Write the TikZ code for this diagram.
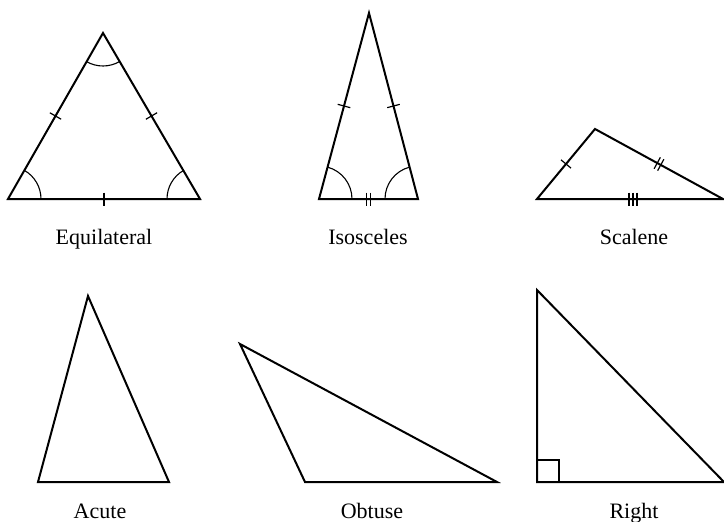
\documentclass[tikz,border=0pt]{standalone}
\usepackage{fontspec}
\setmainfont{Liberation Serif}
\usetikzlibrary{calc,angles}
\newcommand{\tk}[3]{%
  \coordinate (tkm) at ($(#1)!0.5!(#2)$);
  \coordinate (tkc) at ($(tkm)!#3!(#2)$);
  \draw[tickmk] ($(tkc)!6.5pt!90:(#2)$) -- ($(tkc)!6.5pt!-90:(#2)$);}
\begin{document}
\begin{tikzpicture}[x=1pt,y=-1pt,
  tri/.style={line width=2pt,line join=miter},
  tickmk/.style={line width=1.2pt},
  arcmk/.style={draw,line width=1.1pt,angle radius=33pt},
  lbl/.style={anchor=base,inner sep=0pt,font=\fontsize{22}{26}\selectfont}]
\useasboundingbox (0,0) rectangle (724,522);
% Equilateral
\coordinate (eL) at (8,199);
\coordinate (eR) at (200,199);
\coordinate (eT) at (103,33);
\draw[tri] (eL) -- (eR) -- (eT) -- cycle;
\tk{eL}{eT}{0pt}
\tk{eT}{eR}{0pt}
\tk{eL}{eR}{0pt}
\pic[arcmk] {angle = eR--eL--eT};
\pic[arcmk] {angle = eT--eR--eL};
\pic[arcmk] {angle = eL--eT--eR};
\node[lbl] (equi) at (104,244) {Equilateral};
% Isosceles
\coordinate (iL) at (319,199);
\coordinate (iR) at (418,199);
\coordinate (iT) at (369,13);
\draw[tri] (iL) -- (iR) -- (iT) -- cycle;
\tk{iL}{iT}{0pt}
\tk{iT}{iR}{0pt}
\tk{iL}{iR}{-2pt}
\tk{iL}{iR}{2pt}
\pic[arcmk] {angle = iR--iL--iT};
\pic[arcmk] {angle = iT--iR--iL};
\node[lbl] (isos) at (368,244) {Isosceles};
% Scalene
\coordinate (sL) at (537,199);
\coordinate (sR) at (723,199);
\coordinate (sT) at (595,129);
\draw[tri] (sL) -- (sR) -- (sT) -- cycle;
\tk{sL}{sT}{0pt}
\tk{sT}{sR}{-2pt}
\tk{sT}{sR}{2pt}
\tk{sL}{sR}{-1pt}
\tk{sL}{sR}{3pt}
\tk{sL}{sR}{7pt}
\node[lbl] (scal) at (634,244) {Scalene};
% Acute
\coordinate (aL) at (38,482);
\coordinate (aR) at (169,482);
\coordinate (aT) at (88,296);
\draw[tri] (aL) -- (aR) -- (aT) -- cycle;
\node[lbl] (acute) at (100,518) {Acute};
% Obtuse
\coordinate (oL) at (305,482);
\coordinate (oR) at (497,482);
\coordinate (oT) at (240,344);
\draw[tri] (oL) -- (oR) -- (oT) -- cycle;
\node[lbl] (obt) at (372,518) {Obtuse};
% Right
\coordinate (rB) at (537,482);
\coordinate (rR) at (724,482);
\coordinate (rT) at (537,290);
\draw[tri] (rB) -- (rR) -- (rT) -- cycle;
\draw[tickmk] ($(rB)+(0,-22)$) -- ($(rB)+(22,-22)$) -- ($(rB)+(22,0)$);
\node[lbl] (right) at (634,518) {Right};
\end{tikzpicture}
\end{document}
